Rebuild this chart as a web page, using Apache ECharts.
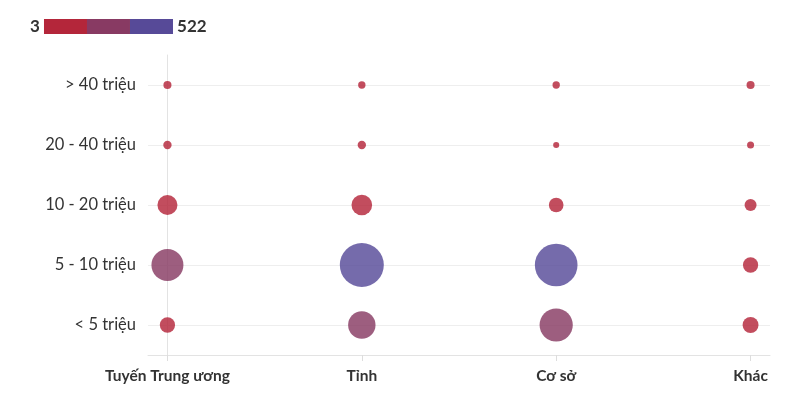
<!DOCTYPE html>
<html>
<head>
<meta charset="utf-8">
<script src="https://cdn.jsdelivr.net/npm/echarts@6/dist/echarts.min.js"></script>
<style>html,body{margin:0;padding:0;background:#fff}#c{width:800px;height:409px}</style>
</head>
<body>
<div id="c"></div>
<script>
const xCategories = ['Tuyến Trung ương', 'Tỉnh', 'Cơ sở', 'Khác'];
const yCategories = ['< 5 triệu', '5 - 10 triệu', '10 - 20 triệu', '20 - 40 triệu', '> 40 triệu'];
// values per facility type, ordered as yCategories (bottom to top)
const tuyenTrungUong = [47, 261, 90, 9, 8];
const tinh = [185, 522, 97, 9, 6];
const coSo = [284, 489, 42, 3, 6];
const khac = [52, 47, 25, 5, 8];
const legendText = [' 522', '3 '];
const pieceBreaks = [3, 176, 349, 522];

const seriesValues = [tuyenTrungUong, tinh, coSo, khac];
const data = [];
seriesValues.forEach((arr, xi) => arr.forEach((v, yi) => data.push([xi, yi, v])));

const colors = ['#b4263a', '#883a63', '#574a98'];
const chart = echarts.init(document.getElementById('c'));
const FONT = 'Lato';
chart.setOption({
  animation: false,
  textStyle: { fontFamily: FONT },
  grid: { left: 148, right: 30, top: 55, bottom: 54 },
  visualMap: {
    type: 'piecewise',
    orient: 'horizontal',
    left: 15,
    top: 3,
    dimension: 2,
    itemWidth: 43,
    itemHeight: 15,
    itemGap: 0,
    itemSymbol: 'rect',
    showLabel: false,
    text: legendText,
    textStyle: { fontFamily: FONT, fontSize: 17, fontWeight: 'bold', color: '#333' },
    pieces: [
      { gte: pieceBreaks[0], lt: pieceBreaks[1], color: colors[0] },
      { gte: pieceBreaks[1], lt: pieceBreaks[2], color: colors[1] },
      { gte: pieceBreaks[2], lte: pieceBreaks[3], color: colors[2] }
    ],
    selectedMode: false,
    hoverLink: false
  },
  xAxis: {
    type: 'value',
    min: -0.1,
    max: 3.1,
    axisLine: { show: true, lineStyle: { color: '#e3e3e3', width: 1 } },
    axisTick: { show: true, customValues: [0, 1, 2, 3], length: 6, lineStyle: { color: '#dddddd' } },
    axisLabel: {
      customValues: [0, 1, 2, 3],
      formatter: v => xCategories[Math.round(v)],
      fontFamily: FONT, fontSize: 15.5, fontWeight: 'bold', color: '#333', margin: 13
    },
    splitLine: { show: false }
  },
  yAxis: {
    type: 'category',
    data: yCategories,
    boundaryGap: true,
    axisLine: { show: true, lineStyle: { color: '#e3e3e3', width: 1 } },
    axisTick: { show: true, alignWithLabel: true, length: 8, lineStyle: { color: '#eeeeee' } },
    axisLabel: { fontFamily: FONT, fontSize: 16.5, color: '#333', margin: 12 },
    splitLine: { show: true, alignWithLabel: true, lineStyle: { color: '#eeeeee', width: 1 } }
  },
  series: [{
    type: 'scatter',
    data: data,
    symbolSize: d => 3 + 41 * Math.sqrt(d[2] / 522),
    itemStyle: { opacity: 0.82 }
  }]
});
</script>
</body>
</html>
